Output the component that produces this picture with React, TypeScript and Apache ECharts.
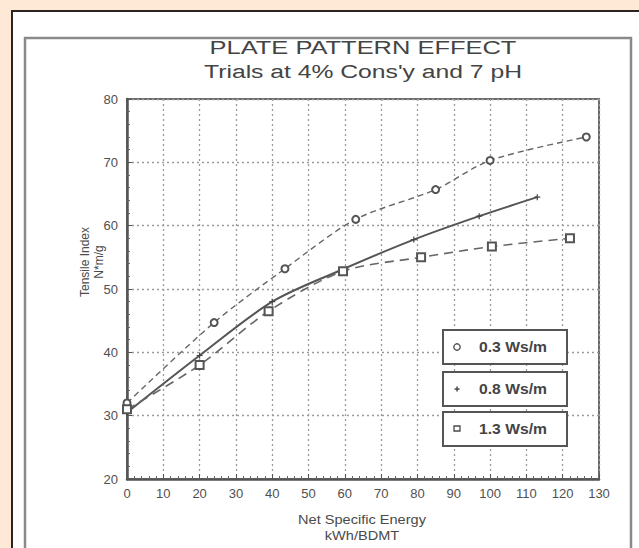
import React, { useEffect, useRef } from "react";
import * as echarts from "echarts";

const seriesNames = ["0.3 Ws/m", "0.8 Ws/m", "1.3 Ws/m"];
const energy03 = [0, 24, 43.5, 63, 85, 100, 126.5];
const tensile03 = [32, 44.7, 53.2, 61, 65.7, 70.3, 74];
const energy08 = [0, 20, 40, 59, 79, 97, 113];
const tensile08 = [30.5, 39.5, 48, 53, 57.8, 61.5, 64.5];
const energy13 = [0, 20, 39, 59.5, 81, 100.5, 122];
const tensile13 = [31, 38, 46.5, 52.8, 55, 56.7, 58];
const xTicks = { min: 0, max: 130, step: 10 };
const yTicks = { min: 20, max: 80, step: 10 };

const pair = (xs: number[], ys: number[]) => xs.map((x, i) => [x, ys[i]]);
const FONT = "'Liberation Sans', Arial, sans-serif";
const INK = "#4a4a4a";

export default function App() {
  const ref = useRef<HTMLDivElement>(null);
  useEffect(() => {
    if (!ref.current) return;
    const chart = echarts.init(ref.current, undefined, { renderer: "svg" });
    const plus = "path://M4,0L6,0L6,4L10,4L10,6L6,6L6,10L4,10L4,6L0,6L0,4L4,4Z";
    chart.setOption({
      animation: false,
      backgroundColor: "#fde9d6",
      graphic: [
        { type: "rect", z: -10, shape: { x: 12, y: 11, width: 700, height: 600 }, style: { fill: "#ffffff", stroke: "#2b2420", lineWidth: 2 } },
        { type: "rect", z: -9, shape: { x: 25, y: 38, width: 606, height: 600 }, style: { fill: "#ffffff", stroke: "#8a8a8a", lineWidth: 2.5 } },
        { type: "text", x: 363, y: 48, scaleX: 1.34, style: { text: "PLATE PATTERN EFFECT", font: `19px ${FONT}`, fill: "#444", textAlign: "center", textVerticalAlign: "middle" } },
        { type: "text", x: 363, y: 72, scaleX: 1.3, style: { text: "Trials at 4% Cons'y and 7 pH", font: `19px ${FONT}`, fill: "#444", textAlign: "center", textVerticalAlign: "middle" } },
        { type: "text", x: 85, y: 262, rotation: Math.PI / 2, style: { text: "Tensile Index", font: `12px ${FONT}`, fill: INK, textAlign: "center", textVerticalAlign: "middle" } },
        { type: "text", x: 99, y: 262, rotation: Math.PI / 2, style: { text: "N*m/g", font: `12px ${FONT}`, fill: INK, textAlign: "center", textVerticalAlign: "middle" } },
        { type: "text", x: 362, y: 520, scaleX: 1.12, style: { text: "Net Specific Energy", font: `13px ${FONT}`, fill: INK, textAlign: "center", textVerticalAlign: "middle" } },
        { type: "text", x: 362, y: 536, scaleX: 1.12, style: { text: "kWh/BDMT", font: `13px ${FONT}`, fill: INK, textAlign: "center", textVerticalAlign: "middle" } },
        ...[330, 372, 412].flatMap((top, i) => [
          { type: "rect", z: 20, shape: { x: 443, y: top, width: 124, height: 34 }, style: { fill: "#ffffff", stroke: "#555555", lineWidth: 2 } },
          { type: "text", z: 21, x: 513, y: top + 17, scaleX: 1.12, style: { text: seriesNames[i], font: `bold 14px ${FONT}`, fill: "#444", textAlign: "center", textVerticalAlign: "middle" } },
        ]),
        { type: "circle", z: 21, shape: { cx: 457, cy: 347, r: 3.2 }, style: { fill: "none", stroke: INK, lineWidth: 1.3 } },
        { type: "rect", z: 21, shape: { x: 454.5, y: 388.3, width: 5, height: 1.5 }, style: { fill: INK } },
        { type: "rect", z: 21, shape: { x: 456.3, y: 386.5, width: 1.5, height: 5 }, style: { fill: INK } },
        { type: "rect", z: 21, shape: { x: 454, y: 426, width: 6, height: 5 }, style: { fill: "none", stroke: INK, lineWidth: 1.3 } },
      ],
      grid: { left: 127, top: 99, width: 472, height: 380, show: true, borderColor: "#6a6a6a", borderWidth: 2 },
      xAxis: {
        type: "value", min: xTicks.min, max: xTicks.max, interval: xTicks.step,
        axisLine: { show: true, lineStyle: { color: "#555", width: 2.5 } },
        axisTick: { show: true, inside: true, length: 5, lineStyle: { color: "#555" } },
        minorTick: { show: true, splitNumber: 5, length: 3, lineStyle: { color: "#666" } },
        splitLine: { show: true, lineStyle: { color: "#9a9a9a", type: [2, 3], width: 1.3 } },
        axisLabel: { color: "#505050", fontSize: 13, fontFamily: FONT, margin: 8 },
      },
      yAxis: {
        type: "value", min: yTicks.min, max: yTicks.max, interval: yTicks.step,
        axisLine: { show: true, lineStyle: { color: "#555", width: 2.5 } },
        axisTick: { show: true, inside: true, length: 5, lineStyle: { color: "#555" } },
        minorTick: { show: true, splitNumber: 5, length: 3, lineStyle: { color: "#666" } },
        splitLine: { show: true, lineStyle: { color: "#9a9a9a", type: [2, 3], width: 1.3 } },
        axisLabel: { color: "#505050", fontSize: 13, fontFamily: FONT, margin: 9 },
      },
      series: [
        {
          name: seriesNames[0], type: "line", smooth: 0.3, data: pair(energy03, tensile03),
          symbol: "emptyCircle", symbolSize: 7,
          lineStyle: { color: "#666", width: 1.4, type: [6, 4] },
          itemStyle: { color: "#555", borderWidth: 1.2 },
        },
        {
          name: seriesNames[1], type: "line", smooth: 0.3, data: pair(energy08, tensile08),
          symbol: plus, symbolSize: 6,
          lineStyle: { color: "#555", width: 2 },
          itemStyle: { color: "#444" },
        },
        {
          name: seriesNames[2], type: "line", smooth: 0.3, data: pair(energy13, tensile13),
          symbol: "emptyRect", symbolSize: 8,
          lineStyle: { color: "#666", width: 1.6, type: [9, 6] },
          itemStyle: { color: "#555", borderWidth: 1.2 },
        },
      ],
    });
    return () => chart.dispose();
  }, []);
  return <div ref={ref} style={{ position: "absolute", left: 0, top: 0, width: 639, height: 548 }} />;
}
